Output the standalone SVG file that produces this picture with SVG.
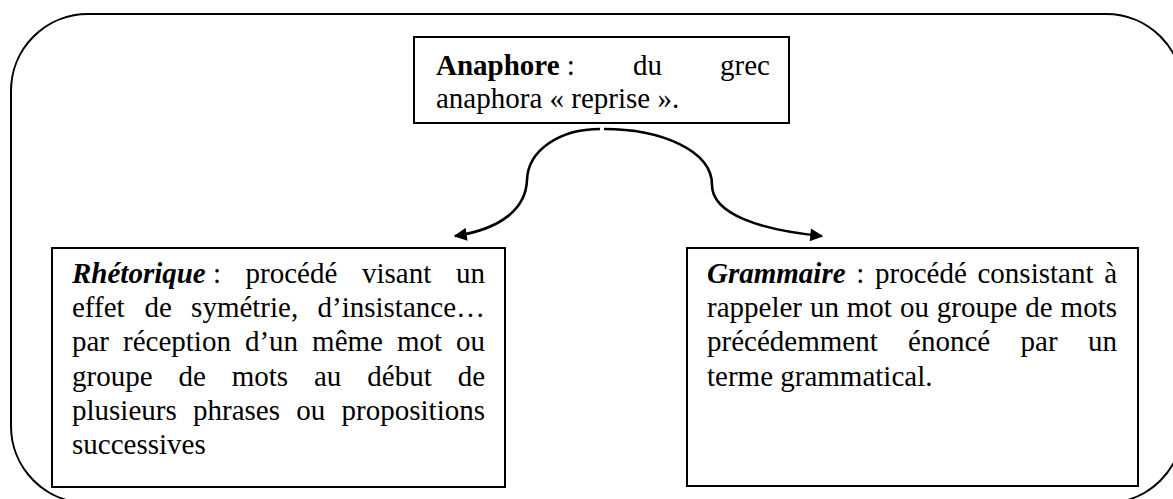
<svg xmlns="http://www.w3.org/2000/svg" width="1173" height="499" viewBox="0 0 1173 499">
<style>
.frame{fill:none;stroke:#000;stroke-width:2}
.box{fill:#fff;stroke:#000;stroke-width:2}
.t{font-family:'Liberation Serif',Tinos,'Times New Roman','DejaVu Serif',serif;font-size:29px;fill:#000}
.b{font-weight:bold}
.bi{font-weight:bold;font-style:italic}
.e{text-anchor:end}
.conn{fill:none;stroke:#000;stroke-width:2.6}
</style>
<defs>
<marker id="ah" viewBox="0 0 10 10" refX="9" refY="5" markerWidth="6" markerHeight="5" markerUnits="strokeWidth" orient="auto">
<path d="M0,0 L10,5 L0,10 z" fill="#000"/>
</marker>
</defs>
<rect class="frame" x="11" y="14" width="1172" height="489" rx="77" ry="77"/>
<g id="anaphore">
<rect class="box" x="414" y="37" width="375" height="86"/>
<text class="t" y="75"><tspan x="436" class="b">Anaphore</tspan><tspan> :</tspan></text>
<text class="t" y="75" x="633">du</text>
<text class="t e" y="75" x="770">grec</text>
<text class="t" y="108" x="436">anaphora « reprise ».</text>
</g>
<g id="connectors">
<path class="conn" marker-end="url(#ah)" d="M600,129 C560,129 528,150 527,180 C526,208 502,229 455,236"/>
<path class="conn" marker-end="url(#ah)" d="M604,129 C660,129 712,150 712,185 C712,214 760,230 822,236"/>
</g>
<g id="rhetorique">
<rect class="box" x="52" y="248" width="453" height="239"/>
<text class="t" y="283"><tspan x="72" class="bi">Rhétorique</tspan><tspan> :</tspan></text>
<text class="t" y="283" x="245.6">procédé</text>
<text class="t" y="283" x="362">visant</text>
<text class="t e" y="283" x="485">un</text>
<text class="t" y="317" x="72">effet</text>
<text class="t" y="317" x="144.4">de</text>
<text class="t" y="317" x="191.1">symétrie,</text>
<text class="t e" y="317" x="485">d’insistance…</text>
<text class="t" y="351" x="72">par</text>
<text class="t" y="351" x="123">réception</text>
<text class="t" y="351" x="244.9">d’un</text>
<text class="t" y="351" x="312.1">même</text>
<text class="t" y="351" x="397">mot</text>
<text class="t e" y="351" x="485">ou</text>
<text class="t" y="386" x="72">groupe</text>
<text class="t" y="386" x="178.4">de</text>
<text class="t" y="386" x="231.7">mots</text>
<text class="t" y="386" x="314">au</text>
<text class="t" y="386" x="367.3">début</text>
<text class="t e" y="386" x="485">de</text>
<text class="t" y="420" x="72">plusieurs</text>
<text class="t" y="420" x="193">phrases</text>
<text class="t" y="420" x="296.3">ou</text>
<text class="t e" y="420" x="485">propositions</text>
<text class="t" y="454" x="72">successives</text>
</g>
<g id="grammaire">
<rect class="box" x="687" y="248" width="451" height="238"/>
<text class="t bi" y="283" x="707">Grammaire</text>
<text class="t" y="283" x="856.3">:</text>
<text class="t" y="283" x="875">procédé</text>
<text class="t" y="283" x="977.5">consistant</text>
<text class="t e" y="283" x="1117">à</text>
<text class="t" y="317" x="707">rappeler</text>
<text class="t" y="317" x="809.9">un</text>
<text class="t" y="317" x="846.8">mot</text>
<text class="t" y="317" x="899.9">ou</text>
<text class="t" y="317" x="936.8">groupe</text>
<text class="t" y="317" x="1025.2">de</text>
<text class="t e" y="317" x="1117">mots</text>
<text class="t" y="351" x="707">précédemment</text>
<text class="t" y="351" x="908.1">énoncé</text>
<text class="t" y="351" x="1020.6">par</text>
<text class="t e" y="351" x="1117">un</text>
<text class="t" y="386" x="707">terme grammatical.</text>
</g>
</svg>
